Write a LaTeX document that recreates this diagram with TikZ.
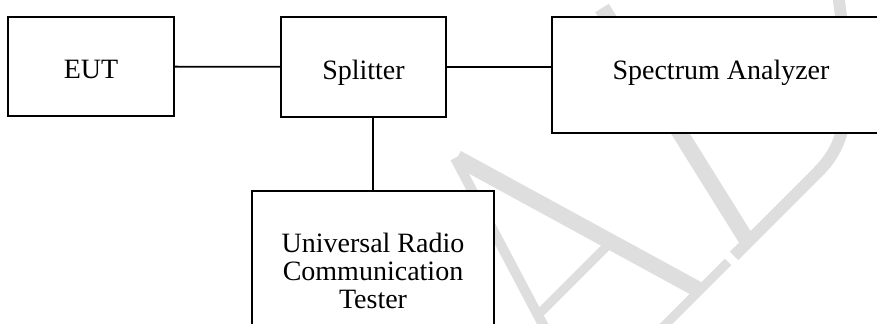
\documentclass[tikz,border=0pt]{standalone}
\usepackage{fontspec}
\setmainfont{Liberation Serif}
\definecolor{wmgray}{RGB}{222,222,222}

\begin{document}
\begin{tikzpicture}[x=0.5pt,y=-0.5pt,
		box/.style={draw,line width=0.9pt,fill=white,inner sep=0pt,align=center,font=\fontsize{14}{14}\selectfont},
		onerow/.style={text height=12.5pt,text depth=0pt},
		link/.style={line width=0.9pt},
		wmark/.style={draw=wmgray}]
	\useasboundingbox (0,0) rectangle (877,324);
	\clip (0,0) rectangle (877,324);
	% watermark letters A and D, lying behind the boxes
	\draw[wmark,line width=5pt] (455,158) -- (550,338);
	\draw[wmark,line width=8pt] (457,158) -- (699,290);
	\draw[wmark,line width=4.5pt] (609,244) -- (537,316);
	\draw[wmark,line width=4.5pt] (728,262) -- (650,340);
	\draw[wmark,line width=8pt] (602,8) -- (748,242);
	\draw[wmark,line width=6pt] (734,256) -- (818,172) .. controls (850,140) and (853,100) .. (838,-6);
	% the four units
	\node[box,onerow,minimum width=83pt,minimum height=49.5pt] (eut) at (91,66.5) {EUT};
	\node[box,onerow,minimum width=82.5pt,minimum height=50pt] (split) at (363.5,67) {Splitter};
	\node[box,text height=10pt,text depth=5pt,minimum width=169pt,minimum height=58pt] (sa) at (721,75) {Spectrum Analyzer};
	\node[box,minimum width=121pt,minimum height=80pt] (urct) at (373,271) {Universal Radio\\Communication\\Tester};
	% cables
	\draw[link] (eut) -- (split);
	\draw[link] (split.east) -- (split.east -| sa.west);
	\draw[link] (urct.north) -- (urct.north |- split.south);
\end{tikzpicture}
\end{document}
